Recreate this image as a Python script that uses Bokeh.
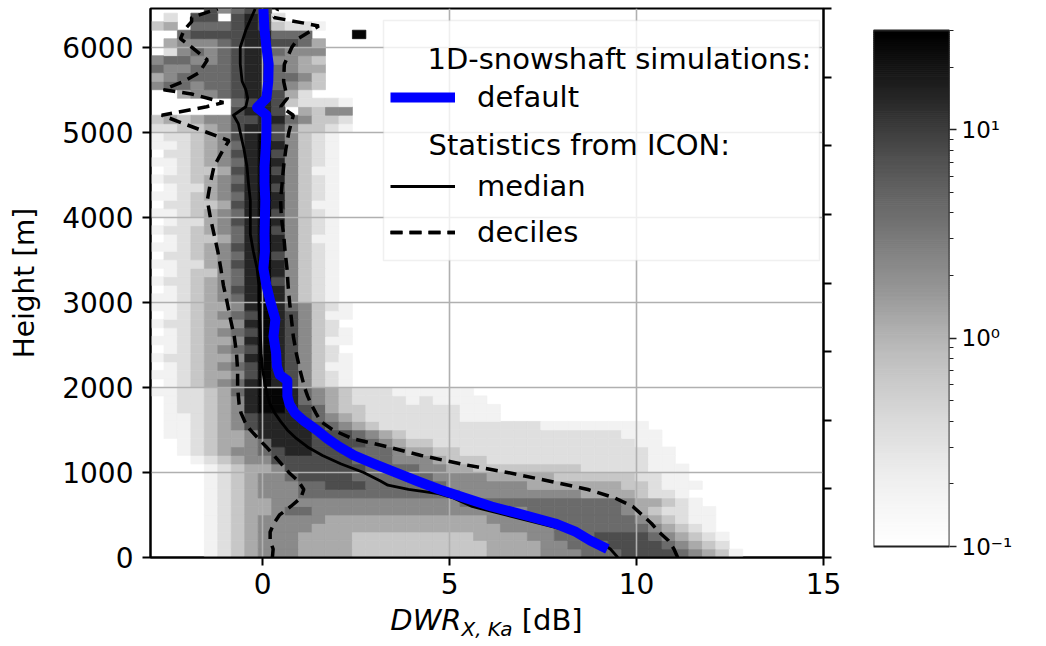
import numpy as np
from bokeh.plotting import figure
from bokeh.models import (Range1d, LinearAxis, FixedTicker, Legend, LegendItem, Label,
                          BoxAnnotation, ColumnDataSource, LogColorMapper, Div)
from bokeh.layouts import row, column
from bokeh.embed import file_html
from bokeh.resources import INLINE
from bokeh.palettes import Greys9

FONT = "DejaVu Sans"

# ---------------- 2-D histogram of DWR vs height (relative frequency, %) ----------------
dwr_bin_start = -3.0
dwr_bin_width = 0.36
height_bin = 100.0
# digit -> relative frequency [%] (0 = empty bin)
level_freq = [0.0, 0.19, 0.35, 0.65, 1.2, 2.2, 4.2, 7.8, 14.5, 27.0]
# one string per 100 m height bin, starting at 0-100 m; one digit per DWR bin
freq_rows = [
    "0000 12345 55444 433333 3333344 4455566 677776 5431",
    "0000 12345 55444 433333 3333344 4455666 777765 4320",
    "0000 12345 55444 433333 3333444 4556667 777654 3210",
    "0000 12345 55544 444444 4444445 5556666 666543 2100",
    "0000 12345 55554 444444 4444455 5566666 665432 1100",
    "0000 12344 56655 555555 5555555 5666666 654322 1100",
    "0000 12344 55555 555555 5556666 6666666 654432 1000",
    "0000 12345 55666 666666 6665555 5555544 443221 0000",
    "0000 12345 55667 776666 6655555 5444444 433211 1000",
    "0000 12345 56777 766666 6555544 4443333 332211 0000",
    "0000 12344 57777 776666 5544333 3333322 222111 0000",
    "0001 23455 77777 766655 5433322 2222222 222110 0000",
    "0012 34556 78877 766654 4332222 2222222 222110 0000",
    "0012 34456 88877 776543 3222222 2222222 221100 0000",
    "0112 34458 88877 765432 2222222 2222222 211100 0000",
    "0112 34578 88876 543222 2222222 2211111 111000 0000",
    "0112 34578 88765 432222 2221110",
    "0122 34589 98764 332222 2221110",
    "0122 34589 98654 322221 2111100",
    "1122 34689 98654 322211 1111000",
    "0123 45689 87532 1",
    "1123 44579 87532 1",
    "0123 45679 87531 1",
    "1223 44589 87532 1",
    "0123 45679 87532 0",
    "1123 44589 87531 1",
    "0123 45679 87532 1",
    "1223 44589 87532 0",
    "0123 45679 87531 1",
    "1123 44589 86532 1",
    "1123 45689 85321",
    "0123 45789 85321",
    "1223 45689 75321",
    "0123 35689 85321",
    "1122 45789 85321",
    "0223 45689 75321",
    "1123 45789 85321",
    "0123 34689 85311",
    "1223 45689 75321",
    "0122 45789 85321",
    "1123 45689 75321",
    "0223 34789 85311",
    "1123 45689 85321",
    "0122 45789 75321",
    "1223 45689 85321",
    "0123 34789 75311",
    "1123 45689 85321",
    "0223 45789 75321",
    "1123 45689 85321",
    "1223 45789 75321",
    "2233 45788 75332 1",
    "3434 55778 86533 2",
    "0000 00788 70435 5",
    "0000 00678 73222 1",
    "0045 56788 74200 0",
    "5665 66788 65430 0",
    "4566 66788 66530 0",
    "6556 66788 65440 0",
    "5665 56788 55430 0",
    "0256 56788 65550 0",
    "0455 56788 77640 0",
    "0067 77788 66600 090000",
    "3406 66787 32210 0",
    "0207 70787 20000 0",
    "0000 75677 00000 0",
]

# ---------------- profiles ----------------
default_height = [100, 200, 300, 400, 500, 600, 700, 800, 900, 1000, 1100, 1200, 1300, 1400,
                  1500, 1600, 1700, 1800, 1900, 2000, 2080, 2150, 2250, 2400, 2600, 2800, 3000,
                  3200, 3400, 3600, 3800, 4000, 4200, 4400, 4600, 4800, 5000, 5200, 5290, 5400,
                  5600, 5800, 6000, 6200, 6450]
default_dwr = [9.22, 8.76, 8.38, 7.82, 6.99, 6.12, 5.42, 4.73, 4.13, 3.55, 2.98, 2.44, 2.05, 1.72,
               1.44, 1.12, 0.86, 0.72, 0.66, 0.66, 0.66, 0.45, 0.38, 0.36, 0.29, 0.34, 0.21,
               0.10, 0.02, 0.06, 0.05, 0.06, 0.07, 0.05, 0.05, 0.08, 0.10, 0.10, -0.15, 0.10,
               0.15, 0.16, 0.10, 0.05, 0.02]

median_height = [0, 100, 200, 300, 400, 500, 600, 700, 750, 800, 850, 900, 1000, 1100, 1200,
                 1300, 1400, 1500, 1600, 1700, 1800, 1900, 2000, 2200, 2400, 2600, 2800, 3000,
                 3200, 3400, 3600, 3800, 4000, 4200, 4400, 4600, 4800, 5000, 5100, 5200, 5300,
                 5400, 5500, 5600, 5800, 6000, 6200, 6450]
median_dwr = [9.5, 9.3, 8.95, 8.3, 7.4, 6.5, 5.6, 5.1, 4.7, 3.9, 3.35, 3.15, 2.7, 2.1, 1.6,
              1.2, 0.9, 0.66, 0.48, 0.32, 0.2, 0.13, 0.08, 0.0, -0.04, -0.06, -0.08, -0.1,
              -0.1, -0.15, -0.25, -0.33, -0.33, -0.33, -0.38, -0.42, -0.5, -0.6, -0.65, -0.78,
              -0.45, -0.4, -0.45, -0.55, -0.6, -0.6, -0.45, -0.2]

decile10_height = [0, 100, 200, 300, 400, 500, 600, 700, 800, 900, 1000, 1100, 1200, 1300, 1400,
                   1500, 1600, 1700, 1800, 2000, 2200, 2400, 2600, 2800, 3000, 3200, 3400, 3600,
                   3800, 4000, 4200, 4400, 4600, 4800, 4900, 5000, 5100, 5200, 5300, 5350, 5450,
                   5500, 5600, 5700, 5850, 6000, 6100, 6200, 6300, 6350, 6450]
decile10_dwr = [0.26, 0.28, 0.2, 0.2, 0.3, 0.45, 0.75, 1.02, 1.1, 0.95, 0.7, 0.5, 0.3, 0.1, -0.12,
                -0.33, -0.48, -0.58, -0.63, -0.67, -0.67, -0.7, -0.76, -0.86, -0.95, -1.05, -1.12,
                -1.2, -1.3, -1.4, -1.48, -1.4, -1.3, -1.05, -0.9, -1.5, -2.1, -2.7, -1.5, -1.05,
                -1.9, -2.65, -2.1, -1.7, -1.48, -1.9, -2.2, -2.1, -1.9, -1.9, -1.2]

decile90_height = [0, 100, 200, 300, 400, 500, 600, 700, 800, 900, 1000, 1100, 1200, 1300, 1400,
                   1500, 1600, 1700, 1800, 1900, 2000, 2200, 2400, 2600, 2800, 3000, 3200, 3400,
                   3600, 3800, 4000, 4200, 4400, 4600, 4800, 5000, 5200, 5300, 5400, 5600, 5800,
                   6000, 6100, 6250, 6350, 6450]
decile90_dwr = [11.1, 11.0, 10.85, 10.6, 10.4, 10.15, 9.9, 9.42, 8.7, 7.65, 6.55, 5.3, 4.24, 3.35,
                2.38, 1.88, 1.55, 1.42, 1.3, 1.2, 1.12, 1.0, 0.9, 0.82, 0.77, 0.72, 0.68, 0.65,
                0.6, 0.56, 0.5, 0.48, 0.52, 0.56, 0.62, 0.7, 0.82, 0.48, 0.66, 0.56, 0.58,
                0.78, 0.95, 1.5, 0.3, 0.4]

x_ticks = [0, 5, 10, 15]
y_ticks = [0, 1000, 2000, 3000, 4000, 5000, 6000]
right_ticks = [0, 1, 2, 3, 4, 5, 6, 7, 8]
cbar_ticks = [0.1, 1, 10]
cbar_tick_labels = ["10\u207b\u00b9", "10\u2070", "10\u00b9"]
cbar_minor = [0.2, 0.3, 0.4, 0.5, 0.6, 0.7, 0.8, 0.9, 2, 3, 4, 5, 6, 7, 8, 9, 20, 30]
cbar_low, cbar_high = 0.1, 30.0

# ---------------- colour map (matplotlib-like "Greys") ----------------
g = [tuple(int(c[k:k + 2], 16) for k in (1, 3, 5)) for c in reversed(Greys9)]
pal = []
for t in np.linspace(0, len(g) - 1, 256):
    k = min(int(t), len(g) - 2)
    f = t - k
    pal.append("#%02x%02x%02x" % tuple(int(round(g[k][m] * (1 - f) + g[k + 1][m] * f)) for m in range(3)))
mapper = LogColorMapper(palette=pal, low=cbar_low, high=cbar_high)

# ---------------- histogram cells ----------------
cells = dict(left=[], right=[], bottom=[], top=[], freq=[])
for j, r in enumerate(freq_rows):
    for i, ch in enumerate(r.replace(" ", "")):
        lv = int(ch)
        if lv == 0:
            continue
        cells["left"].append(dwr_bin_start + i * dwr_bin_width)
        cells["right"].append(dwr_bin_start + (i + 1) * dwr_bin_width)
        cells["bottom"].append(j * height_bin)
        cells["top"].append((j + 1) * height_bin)
        cells["freq"].append(level_freq[lv])
src = ColumnDataSource(cells)

BORDER_TOP, FRAME_H, BORDER_BOTTOM = 8, 549, 48
FRAME_LEFT, FRAME_W = 150, 673

# ---------------- main figure ----------------
p = figure(title=None, frame_width=FRAME_W, frame_height=FRAME_H,
           x_range=Range1d(-3, 15), y_range=Range1d(0, 6455),
           output_backend="svg", toolbar_location=None,
           min_border_left=FRAME_LEFT, min_border_right=20,
           min_border_top=BORDER_TOP, min_border_bottom=BORDER_BOTTOM,
           background_fill_color="white", border_fill_color="white")
p.outline_line_color = "black"
p.outline_line_width = 2
p.outline_line_alpha = 1

p.quad(left="left", right="right", bottom="bottom", top="top", source=src,
       fill_color={"field": "freq", "transform": mapper},
       line_color={"field": "freq", "transform": mapper}, line_width=0.7, level="image")

r_lo = p.line(decile10_dwr, decile10_height, line_color="black", line_width=3.5, line_dash="12 7")
r_hi = p.line(decile90_dwr, decile90_height, line_color="black", line_width=3.5, line_dash="12 7")
r_med = p.line(median_dwr, median_height, line_color="black", line_width=2.8, line_join="round")
r_def = p.line(default_dwr, default_height, line_color="blue", line_width=10, line_join="round")

for ax in (p.xaxis[0], p.yaxis[0]):
    ax.axis_line_width = 2
    ax.major_tick_line_width = 2
    ax.major_tick_out = 8
    ax.major_tick_in = 0
    ax.minor_tick_line_color = None
    ax.major_label_text_font = FONT
    ax.major_label_text_font_size = "28px"
    ax.major_label_text_color = "black"
    ax.major_label_standoff = 9
p.xaxis.ticker = FixedTicker(ticks=x_ticks)
p.yaxis.ticker = FixedTicker(ticks=y_ticks)
p.xaxis.major_label_standoff = 7
p.yaxis.axis_label = "Height [m]"
p.yaxis.axis_label_text_font = FONT
p.yaxis.axis_label_text_font_size = "28px"
p.yaxis.axis_label_text_font_style = "normal"
p.yaxis.axis_label_text_color = "black"
p.yaxis.axis_label_standoff = 18

p.extra_y_ranges = {"right": Range1d(0, 8)}
rax = LinearAxis(y_range_name="right", ticker=FixedTicker(ticks=right_ticks),
                 major_label_overrides={t: "" for t in right_ticks},
                 axis_line_width=2, major_tick_line_width=2, major_tick_out=8, major_tick_in=0,
                 minor_tick_line_color=None, major_label_text_font_size="10px")
p.add_layout(rax, "right")

p.xgrid.grid_line_color = "#b0b0b0"
p.ygrid.grid_line_color = "#b0b0b0"
p.xgrid.grid_line_width = 1.6
p.ygrid.grid_line_width = 1.6

# legend frame, headers and two legends
p.add_layout(BoxAnnotation(left=233, right=669, bottom=297, top=537,
                           left_units="screen", right_units="screen",
                           bottom_units="screen", top_units="screen",
                           fill_color="white", fill_alpha=0.8,
                           line_color="#cccccc", line_width=1.5))
leg_common = dict(padding=0, margin=0, glyph_width=65, glyph_height=40, label_height=40,
                  label_standoff=22, spacing=6, border_line_color=None,
                  background_fill_alpha=0, label_text_font=FONT,
                  label_text_font_size="29px", label_text_color="black")
leg1 = Legend(items=[LegendItem(label="default", renderers=[r_def])], location=(240, 440), **leg_common)
leg2 = Legend(items=[LegendItem(label="median", renderers=[r_med]),
                     LegendItem(label="deciles", renderers=[r_lo, r_hi])],
              location=(240, 305), **leg_common)
p.add_layout(leg1)
p.add_layout(leg2)
p.add_layout(Label(x=277, y=499, x_units="screen", y_units="screen",
                   text="1D-snowshaft simulations:", text_font=FONT, text_font_size="29px",
                   text_baseline="middle", text_color="black"))
p.add_layout(Label(x=278, y=413, x_units="screen", y_units="screen",
                   text="Statistics from ICON:", text_font=FONT, text_font_size="29px",
                   text_baseline="middle", text_color="black"))

# ---------------- colour bar figure (same borders as main figure) ----------------
# bar spans 0.1 .. 30 between pixel rows 30 and 546; frame spans rows 8 .. 557
decade_px = 516 / np.log10(cbar_high / cbar_low)
cb_low = cbar_low / 10 ** ((BORDER_TOP + FRAME_H - 546) / decade_px)
cb_high = cbar_high * 10 ** ((30 - BORDER_TOP) / decade_px)
cb = figure(title=None, frame_width=76, frame_height=FRAME_H,
            x_range=Range1d(0, 1), y_range=Range1d(cb_low, cb_high), y_axis_type="log",
            y_axis_location="right", output_backend="svg", toolbar_location=None,
            min_border_left=30, min_border_right=95,
            min_border_top=BORDER_TOP, min_border_bottom=BORDER_BOTTOM,
            background_fill_color="white", border_fill_color="white")
cb.outline_line_color = None
edges = 10 ** np.linspace(np.log10(cbar_low), np.log10(cbar_high), len(pal) + 1)
cb.quad(left=0, right=1, bottom=edges[:-1], top=edges[1:], fill_color=pal, line_color=pal, line_width=1)
cb.quad(left=0, right=1, bottom=cbar_low, top=cbar_high, fill_color=None,
        line_color="#222222", line_width=1.8)
cb.xaxis.visible = False
cb.xgrid.visible = False
cb.ygrid.visible = False
cax = cb.yaxis[0]
cax.ticker = FixedTicker(ticks=cbar_ticks, minor_ticks=cbar_minor)
cax.major_label_overrides = dict(zip(cbar_ticks, cbar_tick_labels))
cax.axis_line_color = None
cax.major_tick_out = 7
cax.major_tick_in = 0
cax.minor_tick_out = 4
cax.minor_tick_in = 0
cax.major_tick_line_width = 1.5
cax.minor_tick_line_width = 1.2
cax.major_tick_line_color = "#222222"
cax.minor_tick_line_color = "#222222"
cax.major_label_text_font = FONT
cax.major_label_text_font_size = "23px"
cax.major_label_text_color = "black"
cax.major_label_standoff = 5
cb.add_layout(Label(x=156, y=(BORDER_TOP + FRAME_H - 288), x_units="screen", y_units="screen",
                    angle=np.pi / 2, text="relative frequency [%]", text_font=FONT,
                    text_font_size="22px", text_align="center", text_baseline="middle",
                    text_color="black"))

# ---------------- x-axis label (italic DWR with subscript, then unit) ----------------
xlabel_html = (
    '<div style="width:%dpx;margin-left:%dpx;text-align:center;white-space:nowrap;'
    'font-family:\'DejaVu Sans\';font-size:29px;line-height:30px;color:black;">'
    '<i>DWR</i><sub style="font-size:20px;font-style:italic;vertical-align:-6px;">X, Ka</sub>'
    ' [dB]</div>' % (FRAME_W, FRAME_LEFT)
)
xlabel = Div(text=xlabel_html, width=FRAME_LEFT + FRAME_W + 20, height=40, margin=0)

layout = column(row(p, cb), xlabel)
open("out.html", "w").write(file_html(layout, INLINE))
